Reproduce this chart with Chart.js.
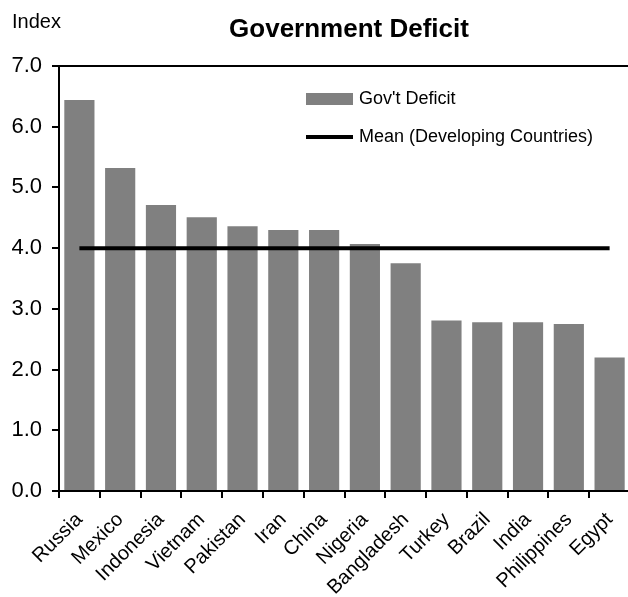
<!DOCTYPE html>
<html>
<head>
<meta charset="utf-8">
<script src="https://cdn.jsdelivr.net/npm/chart.js@4"></script>
<style>
  html, body { margin: 0; padding: 0; background: #fff; overflow: hidden; }
  #wrap { width: 640px; height: 597px; }
</style>
</head>
<body>
<div id="wrap"><canvas id="canvas"></canvas></div>
<script>
'use strict';

const countries = ['Russia', 'Mexico', 'Indonesia', 'Vietnam', 'Pakistan', 'Iran', 'China', 'Nigeria', 'Bangladesh', 'Turkey', 'Brazil', 'India', 'Philippines', 'Egypt'];
const deficitValues = [6.44, 5.32, 4.71, 4.51, 4.36, 4.30, 4.30, 4.07, 3.75, 2.81, 2.78, 2.78, 2.75, 2.20];
const meanValue = 4.0;
const meanValues = countries.map(() => meanValue);
const yTicks = [0, 1, 2, 3, 4, 5, 6, 7];

const fontFamily = '"Liberation Sans", Arial, sans-serif';

// title, "Index" and the in-plot legend
const decorations = {
  id: 'decorations',
  afterDraw(chart) {
    const ctx = chart.ctx;
    ctx.save();
    ctx.fillStyle = '#000';
    ctx.textBaseline = 'middle';

    ctx.font = '20px ' + fontFamily;
    ctx.textAlign = 'left';
    ctx.fillText('Index', 12, 22);

    ctx.font = 'bold 26px ' + fontFamily;
    ctx.textAlign = 'center';
    ctx.fillText('Government Deficit', 349, 30);

    ctx.font = '18px ' + fontFamily;
    ctx.textAlign = 'left';
    const items = chart.data.datasets;
    for (let i = 0; i < items.length; i++) {
      const ds = items[i];
      const y = 99 + i * 38;
      if (ds.type === 'line') {
        ctx.strokeStyle = ds.borderColor;
        ctx.lineWidth = 4;
        ctx.beginPath();
        ctx.moveTo(306, y);
        ctx.lineTo(353, y);
        ctx.stroke();
      } else {
        ctx.fillStyle = ds.backgroundColor;
        ctx.fillRect(306, y - 6, 47, 12);
      }
      ctx.fillStyle = '#000';
      ctx.fillText(ds.label, 359, y);
    }
    ctx.restore();
  }
};

const ctx = document.getElementById('canvas').getContext('2d');
new Chart(ctx, {
  data: {
    labels: countries,
    datasets: [{
      type: 'bar',
      label: "Gov't Deficit",
      data: deficitValues,
      backgroundColor: '#808080',
      barPercentage: 0.74,
      categoryPercentage: 1.0,
      order: 2
    },
    {
      type: 'line',
      label: 'Mean (Developing Countries)',
      data: meanValues,
      borderColor: '#000',
      borderWidth: 4,
      pointRadius: 0,
      fill: false,
      order: 1
    }]
  },
  options: {
    responsive: true,
    maintainAspectRatio: false,
    animation: false,
    layout: { padding: { top: 66, right: 10, left: 0, bottom: 0 } },
    plugins: {
      legend: { display: false },
      title: { display: false },
      tooltip: { enabled: false }
    },
    scales: {
      x: {
        offset: true,
        grid: {
          offset: true,
          drawOnChartArea: false,
          tickLength: 7,
          tickColor: '#000',
          lineWidth: 2
        },
        border: { color: '#000', width: 2 },
        ticks: {
          color: '#000',
          font: { family: fontFamily, size: 20 },
          minRotation: 45,
          maxRotation: 45,
          autoSkip: false,
          padding: 10
        },
        afterFit(scale) { scale.height = 106; }
      },
      y: {
        min: 0,
        max: 7,
        afterBuildTicks(scale) { scale.ticks = yTicks.map(v => ({ value: v })); },
        grid: {
          color: c => (c.tick && c.tick.value === 7 ? '#000' : 'rgba(0,0,0,0)'),
          tickColor: '#000',
          tickLength: 7,
          lineWidth: 2
        },
        border: { color: '#000', width: 2 },
        ticks: {
          color: '#000',
          font: { family: fontFamily, size: 22 },
          padding: 10,
          callback: v => v.toFixed(1)
        },
        afterFit(scale) { scale.width = 59; }
      }
    }
  },
  plugins: [decorations]
});
</script>
</body>
</html>
